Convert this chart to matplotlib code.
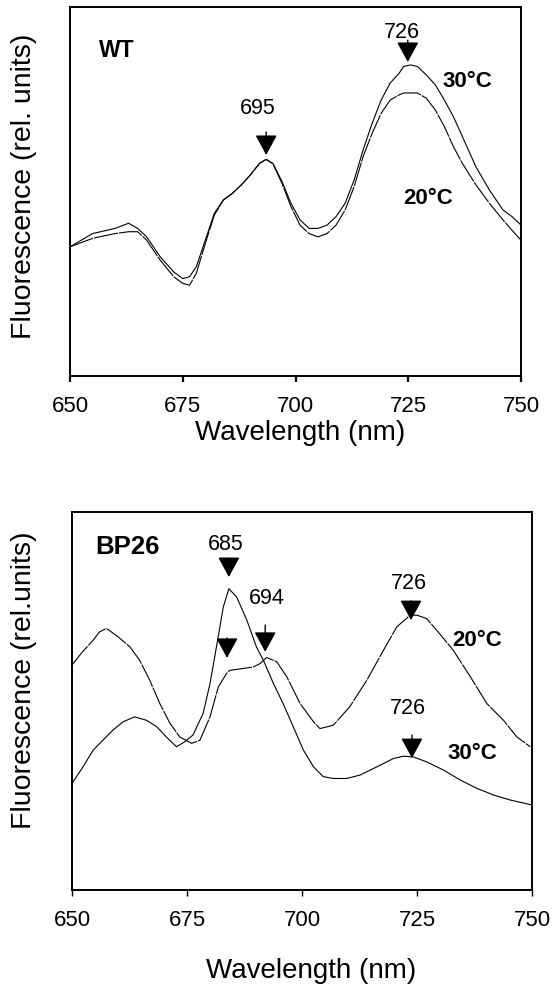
import matplotlib
matplotlib.use("Agg")
import matplotlib.pyplot as plt

plt.rcParams["font.family"] = ["Liberation Sans", "DejaVu Sans"]

# ---- WT panel (arbitrary units 0-100)
wt_wl = [650, 655, 660, 663, 665, 667, 670, 673, 675, 676.5, 678, 680, 682, 684,
         686, 688, 690, 692, 693.5, 695, 697, 699, 701, 703, 705, 707, 709, 711,
         713, 715, 717, 719, 721, 723, 724, 725.5, 727, 729, 731, 733, 735, 737,
         740, 743, 746, 748, 750]
wt_30 = [35.0, 38.6, 40.0, 41.4, 40.0, 37.7, 32.3, 28.2, 26.4, 26.9, 29.6, 36.8,
         44.1, 47.7, 49.5, 51.8, 54.5, 57.6, 58.7, 57.6, 52.7, 46.8, 42.3, 40.0,
         40.0, 40.9, 43.2, 46.8, 53.1, 61.3, 68.5, 74.8, 79.4, 82.1, 83.9, 84.3,
         83.9, 81.6, 78.9, 74.8, 70.3, 64.9, 56.7, 50.4, 45.0, 43.2, 40.9]
wt_20 = [35.0, 37.3, 38.6, 39.1, 39.1, 36.8, 31.4, 26.9, 25.1, 24.6, 27.8, 35.9,
         43.6, 47.7, 49.5, 51.8, 54.5, 57.6, 58.7, 57.5, 52.2, 45.9, 40.9, 38.6,
         37.7, 38.6, 40.9, 45.0, 51.3, 59.5, 65.8, 71.2, 74.8, 76.2, 76.7, 76.7,
         76.7, 75.3, 72.1, 67.6, 62.2, 57.6, 51.8, 46.8, 42.3, 39.5, 36.8]

# ---- BP26 panel
bp30_wl = [650.0, 652.4, 654.6, 656.7, 658.9, 661.1, 663.6, 666.2, 668.4, 670.5,
           672.7, 674.5, 676.3, 678.5, 680.0, 681.4, 682.9, 684.1, 685.8, 688.0,
           690.1, 691.6, 693.8, 695.9, 698.1, 700.3, 702.5, 704.6, 706.8, 709.7,
           712.6, 716.3, 719.9, 722.1, 724.2, 727.1, 730.8, 734.4, 738.0, 741.7,
           745.3, 750.0]
bp30 = [28.2, 32.6, 37.0, 39.6, 42.3, 44.5, 45.8, 44.9, 43.2, 40.5, 37.9, 39.2,
        41.0, 46.7, 54.6, 64.3, 74.9, 79.7, 77.5, 71.4, 64.3, 60.8, 54.6, 49.3,
        43.2, 37.0, 32.6, 30.0, 29.5, 29.5, 30.4, 32.6, 34.8, 35.4, 35.2, 33.9,
        31.7, 29.1, 26.9, 25.1, 23.8, 22.5]
bp20_wl = [650.0, 652.0, 654.6, 656.0, 657.5, 660.0, 662.6, 664.7, 666.9, 669.1,
           671.3, 673.4, 676.0, 677.8, 680.0, 681.8, 683.6, 684.3, 687.2, 689.4,
           690.9, 692.3, 694.5, 696.7, 699.6, 702.5, 703.9, 706.8, 710.4, 714.1,
           717.7, 720.6, 723.5, 725.0, 727.1, 729.3, 732.9, 736.6, 740.2, 743.8,
           746.7, 749.6]
bp20 = [59.5, 62.6, 66.1, 68.3, 69.2, 67.0, 64.3, 60.8, 55.5, 49.3, 44.1, 40.5,
        38.8, 39.6, 45.8, 53.7, 57.3, 58.1, 58.6, 59.0, 59.9, 61.5, 60.4, 56.4,
        49.3, 44.5, 42.7, 43.6, 48.5, 55.5, 63.4, 69.6, 72.7, 72.7, 71.8, 68.7,
        63.4, 56.4, 49.3, 44.9, 40.5, 37.9]

xticks = [650, 675, 700, 725, 750]

W, H = 553, 985
fig = plt.figure(figsize=(W / 100, H / 100), dpi=100)


def px_axes(l, t, r, b):
    return fig.add_axes([l / W, 1 - b / H, (r - l) / W, (b - t) / H])


def style(ax, tick_w):
    ax.set_xlim(650, 750)
    ax.set_ylim(0, 100)
    ax.set_xticks(xticks)
    ax.set_yticks([])
    ax.tick_params(axis="x", direction="out", length=4.5, width=tick_w,
                   labelsize=16, pad=10)
    for s in ax.spines.values():
        s.set_linewidth(1.4)


def arrow(ax, x, tip, tail):
    ax.annotate("", xy=(x, tip), xytext=(x, tail),
                arrowprops=dict(arrowstyle="-|>,head_length=1.25,head_width=0.68",
                                color="black", lw=1.0, shrinkA=0, shrinkB=0))


# top panel
ax1 = px_axes(70, 7, 521, 376)
style(ax1, 1.6)
ax1.plot(wt_wl, wt_30, color="black", lw=0.8)
ax1.plot(wt_wl, wt_20, color="black", lw=0.8, dashes=(22, 1))
ax1.text(660.4, 88.3, "WT", fontsize=16.5, fontweight="bold", ha="center", va="center")
ax1.text(723.6, 93.0, "726", fontsize=15.5, ha="center", va="center")
arrow(ax1, 724.9, 85.1, 91.0)
ax1.text(691.7, 72.4, "695", fontsize=15.5, ha="center", va="center")
arrow(ax1, 693.5, 59.9, 66.1)
ax1.text(738.2, 79.7, "30°C", fontsize=16, fontweight="bold", ha="center", va="center")
ax1.text(729.4, 48.2, "20°C", fontsize=16, fontweight="bold", ha="center", va="center")

# bottom panel
ax2 = px_axes(72, 512, 532, 890)
style(ax2, 1.0)
ax2.plot(bp30_wl, bp30, color="black", lw=0.8)
ax2.plot(bp20_wl, bp20, color="black", lw=0.8, dashes=(22, 1))
ax2.text(662.0, 90.7, "BP26", fontsize=18.5, fontweight="bold", ha="center", va="center")
ax2.text(683.5, 91.5, "685", fontsize=15.5, ha="center", va="center")
arrow(ax2, 684.1, 82.8, 87.8)
ax2.text(692.4, 77.2, "694", fontsize=15.5, ha="center", va="center")
arrow(ax2, 692.0, 63.0, 70.1)
arrow(ax2, 683.7, 61.4, 66.7)
ax2.text(723.3, 81.2, "726", fontsize=15.5, ha="center", va="center")
arrow(ax2, 723.7, 71.4, 76.5)
ax2.text(738.0, 66.1, "20°C", fontsize=16, fontweight="bold", ha="center", va="center")
ax2.text(723.0, 47.9, "726", fontsize=15.5, ha="center", va="center")
arrow(ax2, 723.9, 34.9, 41.0)
ax2.text(737.0, 36.2, "30°C", fontsize=16, fontweight="bold", ha="center", va="center")

# axis labels
fig.text(300 / W, 1 - 433 / H, "Wavelength (nm)", fontsize=20, ha="center", va="center")
fig.text(311 / W, 1 - 971 / H, "Wavelength (nm)", fontsize=20, ha="center", va="center")
fig.text(24 / W, 1 - 186 / H, "Fluorescence (rel. units)", fontsize=20.5,
         rotation=90, ha="center", va="center")
fig.text(24 / W, 1 - 680 / H, "Fluorescence (rel.units)", fontsize=20.5,
         rotation=90, ha="center", va="center")

fig.savefig("out.png", dpi=100)
